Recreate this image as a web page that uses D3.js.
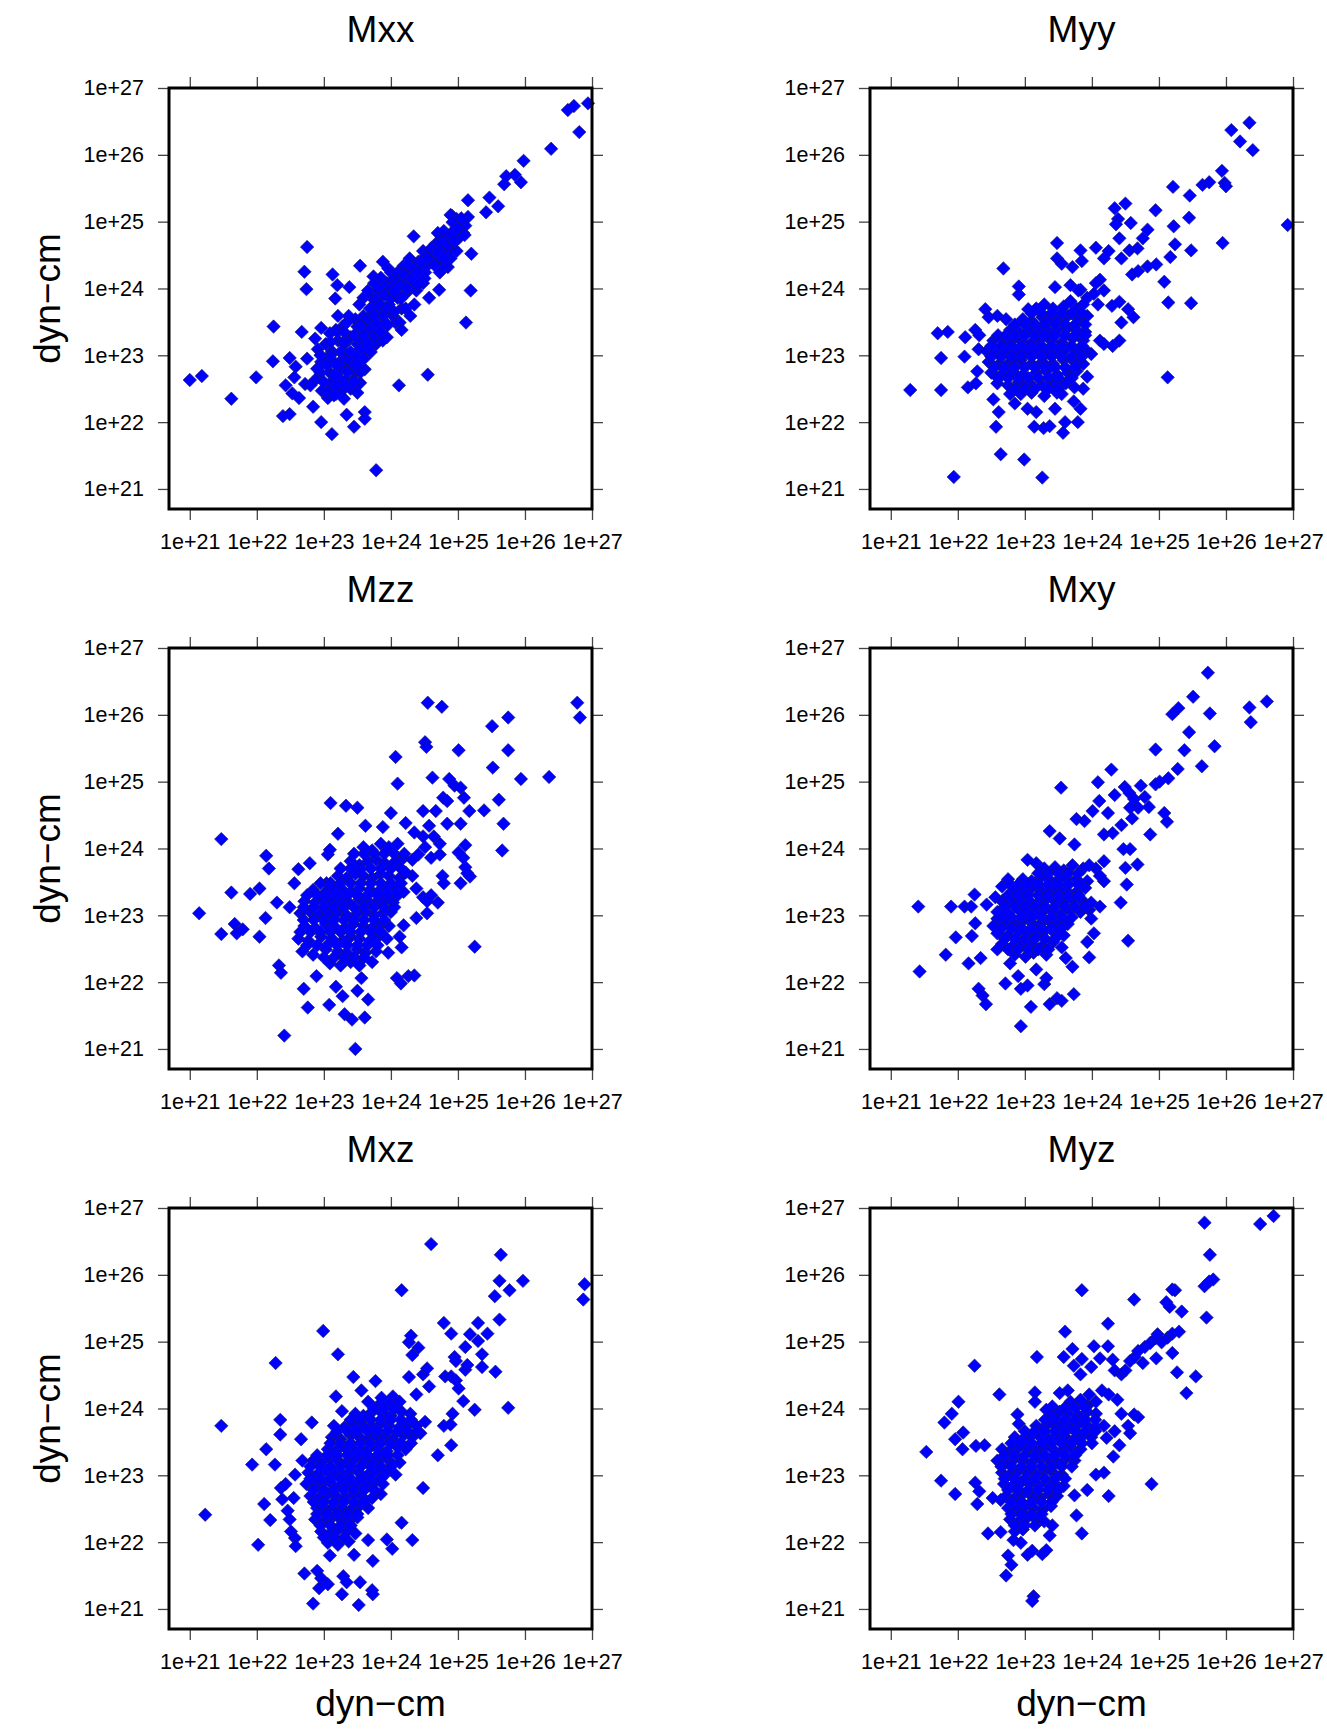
<!DOCTYPE html>
<html><head><meta charset="utf-8">
<script src="https://cdn.jsdelivr.net/npm/d3@7"></script>
<style>body{margin:0;background:#fff}svg{display:block}</style>
</head><body>
<script>
// Values are log10 of moment in dyn-cm: [x, y]
const titles = ["Mxx","Myy","Mzz","Mxy","Mxz","Myz"];
const tickValues = [1e21,1e22,1e23,1e24,1e25,1e26,1e27];
const tickLabels = ["1e+21","1e+22","1e+23","1e+24","1e+25","1e+26","1e+27"];
const axisLabel = "dyn\u2212cm";

const mxx = [[21.00,22.63],[21.18,22.69],[21.62,22.35],[21.99,22.67],[22.25,23.43],[22.24,22.91],[22.49,22.96],[22.43,22.55],[22.39,22.09],[22.49,22.12],[22.58,22.83],[22.56,22.67],[22.53,22.43],[22.63,22.36],[22.67,23.35],[22.75,24.62],[22.71,24.25],[22.74,23.99],[22.75,22.95],[22.72,22.57],[22.84,22.23],[22.96,22.00],[23.12,21.82],[23.13,24.21],[23.20,24.05],[23.17,23.85],[23.38,24.02],[23.54,24.34],[23.34,22.11],[23.45,21.93],[23.61,22.15],[23.61,22.05],[23.78,21.28],[23.54,22.59],[24.12,22.55],[24.55,22.71],[24.34,24.78],[24.72,23.98],[24.57,23.86],[25.12,23.49],[25.20,24.52],[25.19,23.97],[25.15,25.32],[25.15,25.07],[25.42,25.14],[25.47,25.36],[25.60,25.23],[25.69,25.56],[25.72,25.68],[25.85,25.70],[25.94,25.59],[25.98,25.91],[26.39,26.09],[26.64,26.67],[26.73,26.73],[26.81,26.34],[26.94,26.77],[24.91,25.09],[23.88,24.40],[23.96,24.30],[23.74,24.18],[24.28,24.45],[24.48,24.56],[24.85,24.32],
[22.87,23.25],[22.96,23.41],[22.91,23.09],[23.03,23.17],[22.95,22.74],[22.87,22.63],[22.80,22.55],[22.97,22.47],[23.06,22.36],[23.15,22.52],[23.09,22.74],[23.21,22.68],[23.15,22.90],[23.03,22.95],[23.12,23.06],[23.21,23.22],[23.18,23.38],[23.28,23.43],[23.29,22.95],[23.37,22.84],[23.47,22.74],[23.34,22.63],[23.27,22.47],[23.40,22.50],[23.50,22.44],[23.31,23.17],[23.40,23.27],[23.50,23.17],[23.59,23.06],[23.53,22.90],[23.61,22.79],[23.44,23.01],[23.56,23.38],[23.66,23.49],[23.59,23.59],[23.69,23.70],[23.47,23.54],[23.37,23.59],[23.21,23.59],[23.72,23.86],[23.81,23.97],[23.88,24.02],[23.94,24.08],[24.03,24.13],[23.78,23.76],[23.85,23.65],[23.97,23.76],[24.10,23.86],[23.91,23.49],[24.03,23.59],[24.16,23.70],[23.72,23.49],[23.81,23.33],[23.94,23.27],[24.07,23.49],[23.66,23.27],[23.78,23.17],[23.88,23.22],[24.19,24.13],[24.26,24.24],[24.32,24.34],[24.41,24.40],[24.48,24.45],[24.22,23.92],[24.32,24.02],[24.41,24.13],[24.51,24.24],[24.22,23.70],[24.35,23.76],[24.13,23.49],[24.16,23.38],[24.57,24.56],[24.67,24.67],[24.76,24.72],[24.86,24.78],[24.95,24.88],[25.04,24.99],[25.11,24.94],[24.60,24.40],[24.73,24.45],[24.82,24.56],[24.92,24.61],[25.01,24.75],[25.08,24.83],[24.73,24.24],[24.79,24.34],[24.89,24.45],[24.98,24.56],[24.70,24.83],[24.79,24.86],[24.89,25.10],
[23.59,23.86],[23.66,23.97],[23.75,24.08],[23.85,24.16],[24.00,24.24],[24.10,24.02],[24.19,24.34],[24.10,24.24],[23.53,23.76],[23.62,23.38],[23.72,23.17],[23.56,23.22],[23.34,23.01],[23.25,22.79],[23.44,22.63],[23.53,22.58],[23.18,22.42],[23.09,22.58],[23.34,23.49],[23.50,23.43],[23.09,23.33],[22.96,22.90],[23.81,23.59],[23.97,23.92],[24.38,23.97],[24.48,24.08],[24.54,24.34],[24.64,24.50],[24.45,24.24],[24.29,23.59],[24.92,24.99],[24.98,25.04],
[23.05,22.85],[23.10,23.00],[23.15,22.70],[23.20,22.85],[23.25,23.05],[23.25,22.60],[23.30,23.20],[23.35,22.75],[23.40,23.05],[23.40,22.90],[23.45,23.30],[23.45,22.85],[23.50,23.00],[23.55,23.45],[23.55,23.10],[23.60,22.95],[23.60,23.30],[23.65,23.55],[23.65,23.15],[23.70,23.40],[23.70,23.05],[23.75,23.60],[23.75,23.30],[23.80,23.85],[23.80,23.45],[23.85,23.75],[23.85,23.35],[23.90,23.60],[23.90,23.90],[23.95,23.70],[23.95,23.45],[24.00,23.85],[24.00,24.00],[24.05,23.65],[24.05,23.95],[24.10,24.10],[24.15,23.85],[24.15,24.05],[24.20,24.20],[24.25,24.00],[24.25,24.35],[24.30,24.15],[24.35,24.30],[24.40,24.05],[24.40,24.25],[24.45,24.40],[24.50,24.15],[24.55,24.45],[24.60,24.60],[24.65,24.35],[24.70,24.55],[24.75,24.65],[24.80,24.45],[24.85,24.65],[24.90,24.80],[24.95,24.70],[25.00,24.90],[25.05,25.05],[25.10,24.80],
[22.90,22.80],[23.00,22.60],[23.05,22.45],[23.15,22.40],[23.30,22.35],[23.20,22.55],[23.35,22.55],[23.45,22.60],[23.10,23.20],[23.20,23.35],[23.30,23.35],[22.95,23.00],[23.55,22.75],[23.50,22.85]];

const myy = [[21.29,22.48],[21.75,22.48],[21.75,22.96],[21.70,23.33],[21.85,23.35],[21.94,21.18],[22.10,22.98],[22.11,23.27],[22.15,22.52],[22.27,22.58],[22.29,22.76],[22.26,23.38],[22.32,23.30],[22.31,23.09],[22.41,23.69],[22.46,23.57],[22.57,21.93],[22.61,22.15],[22.53,22.34],[22.64,21.52],[22.68,24.30],[22.59,23.59],[22.72,23.54],[22.91,24.03],[22.91,23.91],[22.99,21.44],[23.05,23.69],[23.14,21.93],[23.26,21.17],[23.28,21.91],[23.37,21.94],[23.57,21.84],[23.60,22.00],[23.79,22.00],[23.48,24.68],[23.48,24.45],[23.55,24.37],[23.71,24.32],[23.83,24.57],[23.85,24.41],[23.45,24.02],[23.68,24.05],[23.83,23.98],[24.06,24.61],[24.18,24.45],[24.25,24.56],[24.34,25.20],[24.39,25.04],[24.36,24.96],[24.50,25.27],[24.58,24.98],[24.41,24.75],[24.44,24.45],[24.56,24.57],[24.68,24.60],[24.76,24.75],[24.83,24.88],[24.60,24.21],[24.69,24.26],[24.83,24.33],[24.96,24.36],[24.95,25.17],[25.08,24.10],[25.14,23.79],[25.17,24.47],[25.22,24.93],[25.24,24.66],[25.21,25.52],[25.46,25.39],[25.45,25.06],[25.48,24.57],[25.48,23.78],[25.13,22.67],[25.65,25.55],[25.75,25.59],[25.94,25.76],[25.98,25.58],[26.00,25.53],[25.95,24.68],[26.08,26.37],[26.21,26.20],[26.35,26.48],[26.40,26.07],[26.92,24.95],[24.12,24.13],[24.30,23.74],[24.41,23.80],[24.54,23.69],[24.44,23.49],[24.62,23.57],[24.41,23.22],[24.12,23.22],[24.18,23.17],[24.31,23.14],[23.99,23.02],[24.09,23.76],[24.06,24.08],[24.18,23.97],[23.93,22.68],[23.87,22.50],[23.83,22.20],[23.73,22.31],[23.45,22.20],[23.48,22.44],[23.17,22.15],[23.04,22.20],[22.85,22.28],[22.78,22.42],
[23.17,23.70],[23.29,23.76],[23.42,23.70],[23.58,23.73],[23.68,23.81],[23.77,23.70],[22.97,23.54],[23.10,23.51],[23.26,23.57],[23.39,23.54],[23.52,23.57],[23.64,23.59],[23.80,23.54],[23.93,23.59],[22.78,23.38],[22.91,23.35],[23.07,23.38],[23.23,23.41],[23.36,23.35],[23.48,23.38],[23.64,23.41],[23.77,23.38],[23.90,23.35],[22.53,23.22],[22.66,23.25],[22.78,23.19],[22.94,23.22],[23.10,23.19],[23.23,23.25],[23.39,23.22],[23.55,23.19],[23.71,23.25],[23.87,23.22],[22.43,23.06],[22.59,23.03],[22.72,23.09],[22.88,23.03],[23.04,23.06],[23.17,23.09],[23.32,23.03],[23.45,23.06],[23.61,23.09],[23.77,23.03],[23.90,23.09],[22.46,22.90],[22.62,22.87],[22.78,22.90],[22.94,22.93],[23.10,22.87],[23.26,22.90],[23.42,22.87],[23.58,22.93],[23.74,22.90],[23.87,22.87],[22.50,22.74],[22.66,22.71],[22.82,22.76],[22.97,22.71],[23.17,22.74],[23.32,22.76],[23.48,22.71],[23.64,22.74],[23.77,22.76],[22.59,22.58],[22.75,22.55],[22.91,22.60],[23.07,22.58],[23.26,22.55],[23.42,22.60],[23.61,22.58],[23.74,22.52],[22.94,22.42],[23.10,22.44],[23.29,22.39],[23.55,22.42],[23.93,23.86],[24.03,23.92],[23.87,23.76],[23.80,23.97],
[23.10,23.63],[23.25,23.63],[23.40,23.63],[23.55,23.63],[23.70,23.63],[23.85,23.63],[22.85,23.46],[23.00,23.46],[23.15,23.46],[23.30,23.46],[23.45,23.46],[23.60,23.46],[23.75,23.46],[23.90,23.46],[22.60,23.30],[22.72,23.30],[22.85,23.30],[23.00,23.30],[23.15,23.30],[23.30,23.30],[23.45,23.30],[23.60,23.30],[23.75,23.30],[23.90,23.30],[22.50,23.14],[22.65,23.14],[22.80,23.14],[22.95,23.14],[23.10,23.14],[23.25,23.14],[23.40,23.14],[23.55,23.14],[23.70,23.14],[23.85,23.14],[22.50,22.98],[22.65,22.98],[22.80,22.98],[22.95,22.98],[23.10,22.98],[23.25,22.98],[23.40,22.98],[23.55,22.98],[23.70,22.98],[23.85,22.98],[22.55,22.82],[22.70,22.82],[22.85,22.82],[23.00,22.82],[23.15,22.82],[23.30,22.82],[23.45,22.82],[23.60,22.82],[23.75,22.82],[22.60,22.66],[22.75,22.66],[22.90,22.66],[23.05,22.66],[23.20,22.66],[23.35,22.66],[23.50,22.66],[23.70,22.66],[22.85,22.50],[23.00,22.50],[23.15,22.50],[23.35,22.50],[23.50,22.50]];

const mzz = [[21.14,23.03],[21.47,24.14],[21.47,22.72],[21.62,23.34],[21.67,22.87],[21.70,22.73],[21.79,22.79],[21.90,23.32],[22.04,23.40],[22.04,22.68],[22.13,22.96],[22.14,23.89],[22.18,23.70],[22.30,23.19],[22.33,22.25],[22.36,22.14],[22.41,21.20],[22.49,23.12],[22.56,23.48],[22.62,23.69],[22.79,23.78],[22.70,21.90],[22.76,21.62],[22.89,22.09],[23.08,21.66],[23.04,23.48],[23.10,24.68],[23.21,24.22],[23.06,23.91],[23.09,23.98],[23.33,24.64],[23.50,24.61],[23.18,21.93],[23.28,21.79],[23.31,21.52],[23.42,21.44],[23.61,21.47],[23.47,21.00],[23.50,21.87],[23.66,21.74],[23.56,22.06],[23.62,24.34],[23.88,24.32],[24.00,24.53],[24.07,25.37],[24.10,24.97],[24.22,24.38],[24.09,22.06],[24.15,21.98],[24.26,22.09],[24.35,22.10],[24.48,24.56],[24.51,25.59],[24.53,25.52],[24.55,26.18],[24.76,26.12],[24.62,25.06],[24.67,24.56],[24.78,24.76],[24.84,24.71],[24.84,24.37],[24.87,25.04],[24.95,24.94],[25.01,25.47],[25.04,24.91],[25.09,24.76],[25.17,24.56],[25.04,24.37],[25.11,24.05],[25.01,23.94],[25.08,23.86],[25.11,23.72],[25.14,23.63],[25.18,23.58],[25.04,23.48],[24.77,23.59],[24.79,23.48],[24.70,23.19],[24.54,23.03],[24.38,22.96],[25.25,22.53],[25.39,24.57],[25.51,25.83],[25.52,25.21],[25.61,24.73],[25.68,24.37],[25.66,23.97],[25.75,25.96],[25.75,25.47],[25.94,25.04],[26.36,25.07],[26.78,26.18],[26.82,25.96],[24.19,22.85],[24.16,22.52],[23.96,22.44],[24.13,22.68],[24.38,23.40],[24.48,23.27],[24.32,23.59],[24.41,23.91],[24.51,24.02],[24.60,23.86],[24.73,23.91],[24.73,24.07],[24.64,24.18],[24.48,24.18],[24.35,24.24],[24.57,24.34],[24.60,23.30],[24.54,23.21],
[23.59,24.02],[23.72,23.97],[23.85,24.07],[23.97,24.02],[24.10,24.07],[23.40,23.81],[23.53,23.75],[23.66,23.81],[23.78,23.83],[23.91,23.78],[24.07,23.81],[24.19,23.86],[24.32,23.83],[23.21,23.59],[23.34,23.56],[23.47,23.62],[23.59,23.59],[23.72,23.56],[23.85,23.62],[23.97,23.59],[24.13,23.56],[24.22,23.64],[22.84,23.38],[23.03,23.35],[23.15,23.40],[23.28,23.38],[23.40,23.35],[23.53,23.40],[23.69,23.38],[23.81,23.35],[23.94,23.40],[24.07,23.38],[24.19,23.35],[22.71,23.21],[22.87,23.19],[22.99,23.24],[23.12,23.19],[23.25,23.21],[23.37,23.19],[23.53,23.24],[23.66,23.21],[23.78,23.19],[23.91,23.24],[24.03,23.19],[22.65,23.03],[22.80,23.05],[22.93,23.00],[23.09,23.03],[23.21,23.05],[23.34,23.00],[23.50,23.03],[23.62,23.05],[23.75,23.00],[23.88,23.03],[24.00,23.05],[22.71,22.84],[22.87,22.81],[23.03,22.87],[23.15,22.84],[23.31,22.81],[23.44,22.87],[23.59,22.84],[23.72,22.81],[23.85,22.87],[23.97,22.84],[22.62,22.65],[22.77,22.62],[22.96,22.68],[23.12,22.65],[23.28,22.62],[23.40,22.68],[23.53,22.65],[23.69,22.62],[23.81,22.68],[23.94,22.65],[22.68,22.46],[22.84,22.41],[23.03,22.49],[23.21,22.46],[23.34,22.44],[23.50,22.49],[23.62,22.44],[23.78,22.46],[23.09,22.28],[23.25,22.25],[23.40,22.30],[23.53,22.25],[23.72,22.30],
[23.45,23.92],[23.60,23.92],[23.75,23.92],[23.90,23.92],[24.05,23.92],[24.20,23.92],[23.25,23.70],[23.40,23.70],[23.55,23.70],[23.70,23.70],[23.85,23.70],[24.00,23.70],[24.15,23.70],[22.95,23.48],[23.10,23.48],[23.25,23.48],[23.40,23.48],[23.55,23.48],[23.70,23.48],[23.85,23.48],[24.00,23.48],[24.15,23.48],[22.75,23.30],[22.90,23.30],[23.05,23.30],[23.20,23.30],[23.35,23.30],[23.50,23.30],[23.65,23.30],[23.80,23.30],[23.95,23.30],[24.10,23.30],[22.70,23.12],[22.85,23.12],[23.00,23.12],[23.15,23.12],[23.30,23.12],[23.45,23.12],[23.60,23.12],[23.75,23.12],[23.90,23.12],[24.05,23.12],[22.70,22.93],[22.85,22.93],[23.00,22.93],[23.15,22.93],[23.30,22.93],[23.45,22.93],[23.60,22.93],[23.75,22.93],[23.90,22.93],[22.65,22.75],[22.80,22.75],[22.95,22.75],[23.10,22.75],[23.25,22.75],[23.40,22.75],[23.55,22.75],[23.70,22.75],[23.85,22.75],[22.75,22.55],[22.90,22.55],[23.05,22.55],[23.20,22.55],[23.35,22.55],[23.50,22.55],[23.65,22.55],[23.80,22.55],[23.00,22.37],[23.15,22.37],[23.30,22.37],[23.45,22.37],[23.60,22.37]];

const mxy = [[21.41,23.13],[21.43,22.16],[21.82,22.41],[21.90,23.13],[21.97,22.67],[22.10,23.13],[22.20,23.13],[22.25,23.31],[22.21,22.69],[22.26,22.88],[22.16,22.28],[22.34,22.36],[22.31,21.90],[22.37,21.80],[22.42,21.67],[22.71,21.98],[22.94,21.34],[23.09,21.63],[22.94,21.90],[23.04,21.95],[23.37,21.67],[23.48,21.76],[23.55,21.72],[23.73,21.82],[23.71,22.23],[23.96,22.37],[23.93,22.60],[24.03,22.73],[24.54,22.62],[24.43,23.19],[24.52,23.46],[24.18,23.51],[24.50,23.71],[24.68,23.76],[24.57,23.99],[24.47,23.99],[24.87,24.21],[25.08,24.53],[25.12,24.40],[23.54,24.91],[23.37,24.26],[23.52,24.15],[23.74,24.06],[24.09,24.99],[24.11,24.71],[24.29,25.18],[24.24,24.53],[24.01,24.56],[23.77,24.44],[23.89,24.41],[24.34,24.80],[24.49,24.92],[24.56,24.83],[24.63,24.74],[24.73,24.94],[24.79,24.77],[24.85,24.62],[24.69,24.61],[24.57,24.61],[24.60,24.45],[24.44,24.35],[24.95,24.96],[25.01,25.00],[25.14,25.05],[24.95,25.48],[25.28,25.19],[25.38,25.47],[25.45,25.74],[25.20,26.01],[25.29,26.10],[25.51,26.27],[25.64,25.23],[25.73,26.63],[25.76,26.02],[25.83,25.53],[26.35,26.11],[26.37,25.89],[26.61,26.20],[24.18,24.21],[24.31,24.23],[24.18,23.81],[24.06,23.70],[24.12,23.59],[23.96,23.08],[24.12,23.13],[23.99,22.95],[23.61,22.36],[23.55,22.52],[23.29,21.97],[23.32,22.06],[23.17,22.19],[22.90,22.09],[22.78,22.28],[22.59,22.49],[22.59,22.95],[22.53,22.84],[22.43,23.16],[22.56,23.27],[22.66,23.43],[22.75,23.54],[23.04,23.83],[23.17,23.78],[22.78,23.46],
[23.29,23.70],[23.45,23.72],[23.58,23.67],[23.71,23.75],[23.87,23.70],[23.96,23.75],[22.97,23.54],[23.10,23.51],[23.23,23.56],[23.36,23.54],[23.48,23.51],[23.61,23.56],[23.77,23.54],[23.93,23.51],[22.85,23.38],[22.97,23.35],[23.10,23.41],[23.23,23.38],[23.36,23.35],[23.48,23.41],[23.61,23.38],[23.77,23.35],[23.90,23.41],[22.66,23.21],[22.82,23.19],[22.94,23.24],[23.07,23.21],[23.20,23.19],[23.32,23.24],[23.45,23.21],[23.58,23.19],[23.71,23.24],[23.87,23.21],[23.99,23.19],[22.59,23.05],[22.75,23.03],[22.91,23.08],[23.04,23.05],[23.17,23.03],[23.29,23.08],[23.42,23.05],[23.55,23.03],[23.68,23.08],[23.83,23.05],[22.69,22.89],[22.85,22.87],[22.97,22.92],[23.10,22.89],[23.23,22.87],[23.36,22.92],[23.48,22.89],[23.64,22.87],[22.59,22.73],[22.75,22.70],[22.91,22.76],[23.04,22.73],[23.17,22.70],[23.29,22.76],[23.45,22.73],[23.58,22.70],[22.66,22.57],[22.82,22.54],[22.97,22.60],[23.10,22.57],[23.26,22.54],[23.42,22.60],[22.85,22.41],[23.01,22.38],[23.13,22.44],[23.32,22.41],
[23.20,23.63],[23.35,23.63],[23.50,23.63],[23.65,23.63],[23.80,23.63],[22.90,23.46],[23.05,23.46],[23.20,23.46],[23.35,23.46],[23.50,23.46],[23.65,23.46],[23.80,23.46],[22.75,23.30],[22.90,23.30],[23.05,23.30],[23.20,23.30],[23.35,23.30],[23.50,23.30],[23.65,23.30],[23.80,23.30],[22.70,23.13],[22.85,23.13],[23.00,23.13],[23.15,23.13],[23.30,23.13],[23.45,23.13],[23.60,23.13],[23.75,23.13],[23.90,23.13],[22.65,22.97],[22.80,22.97],[22.95,22.97],[23.10,22.97],[23.25,22.97],[23.40,22.97],[23.55,22.97],[23.70,22.97],[22.65,22.81],[22.80,22.81],[22.95,22.81],[23.10,22.81],[23.25,22.81],[23.40,22.81],[23.55,22.81],[22.70,22.65],[22.85,22.65],[23.00,22.65],[23.15,22.65],[23.30,22.65],[23.45,22.65],[22.75,22.49],[22.90,22.49],[23.05,22.49],[23.20,22.49],[23.35,22.49]];

const mxz = [[21.23,22.41],[21.47,23.74],[21.93,23.16],[22.02,21.96],[22.11,22.57],[22.14,23.39],[22.20,22.33],[22.28,24.68],[22.27,23.16],[22.35,23.83],[22.35,23.61],[22.36,22.81],[22.43,22.87],[22.38,22.64],[22.46,22.47],[22.49,22.34],[22.51,22.16],[22.55,22.66],[22.57,22.06],[22.58,21.94],[22.57,23.01],[22.66,23.54],[22.68,23.22],[22.82,23.79],[22.71,21.53],[22.84,21.08],[22.90,21.57],[22.93,21.31],[22.96,21.46],[23.06,21.37],[23.09,21.80],[22.99,25.16],[23.21,24.81],[23.27,21.22],[23.29,21.49],[23.34,21.40],[23.45,21.81],[23.52,21.06],[23.54,21.40],[23.72,21.28],[23.73,21.22],[23.73,21.72],[23.66,22.03],[23.94,22.04],[24.02,21.90],[24.16,22.29],[24.32,22.03],[23.18,24.18],[23.27,23.96],[23.44,24.47],[23.56,24.27],[23.77,24.41],[23.86,24.16],[24.03,24.18],[24.16,25.77],[24.27,24.99],[24.30,25.09],[24.41,24.91],[24.27,24.47],[24.60,26.46],[24.48,22.81],[24.70,23.30],[24.90,23.45],[24.79,25.28],[24.90,25.12],[24.95,24.77],[24.97,24.71],[24.79,23.74],[24.89,23.76],[24.92,23.92],[24.81,24.48],[24.90,24.48],[24.97,24.42],[25.01,24.30],[25.08,24.11],[25.25,23.98],[25.11,24.58],[25.14,24.65],[25.11,24.92],[25.18,25.11],[25.30,25.01],[25.30,25.28],[25.36,24.81],[25.36,24.62],[25.44,25.12],[25.56,24.55],[25.62,25.33],[25.55,25.68],[25.62,25.91],[25.64,26.30],[25.77,25.77],[25.75,24.01],[25.97,25.91],[26.87,25.63],[26.89,25.86],[24.38,24.21],[24.48,24.51],[24.54,24.60],[24.57,24.33],[24.32,24.80],
[23.66,24.10],[23.81,24.04],[23.97,24.07],[24.13,24.10],[23.47,23.92],[23.59,23.89],[23.72,23.95],[23.88,23.92],[24.00,23.89],[24.16,23.95],[24.29,23.92],[23.15,23.74],[23.31,23.72],[23.44,23.77],[23.59,23.74],[23.72,23.72],[23.85,23.77],[23.97,23.74],[24.13,23.72],[24.26,23.77],[24.38,23.74],[24.51,23.80],[23.12,23.57],[23.25,23.54],[23.40,23.60],[23.53,23.57],[23.66,23.54],[23.78,23.60],[23.91,23.57],[24.03,23.54],[24.19,23.60],[24.32,23.57],[24.44,23.63],[23.06,23.39],[23.18,23.36],[23.31,23.42],[23.44,23.39],[23.56,23.36],[23.69,23.42],[23.81,23.39],[23.94,23.36],[24.10,23.42],[24.22,23.39],[22.84,23.22],[22.96,23.19],[23.09,23.25],[23.21,23.22],[23.34,23.19],[23.47,23.25],[23.59,23.22],[23.72,23.19],[23.85,23.25],[23.97,23.22],[24.13,23.19],[22.77,23.04],[22.90,23.01],[23.03,23.07],[23.15,23.04],[23.28,23.01],[23.40,23.07],[23.53,23.04],[23.66,23.01],[23.78,23.07],[23.94,23.04],[24.07,23.01],[22.74,22.87],[22.87,22.84],[22.99,22.89],[23.12,22.87],[23.25,22.84],[23.37,22.89],[23.50,22.87],[23.62,22.84],[23.75,22.89],[23.88,22.87],[22.80,22.69],[22.93,22.66],[23.06,22.72],[23.18,22.69],[23.31,22.66],[23.44,22.72],[23.56,22.69],[23.72,22.66],[23.85,22.72],[22.90,22.51],[23.03,22.48],[23.15,22.54],[23.28,22.51],[23.40,22.48],[23.53,22.54],[23.66,22.51],[22.87,22.34],[22.99,22.31],[23.12,22.37],[23.25,22.34],[23.37,22.31],[23.50,22.37],[22.96,22.16],[23.09,22.13],[23.21,22.19],[23.34,22.16],[23.47,22.13],[23.06,21.99],[23.21,21.96],[23.37,22.01],
[23.75,24.00],[23.90,24.00],[24.05,24.00],[23.40,23.83],[23.55,23.83],[23.70,23.83],[23.85,23.83],[24.00,23.83],[24.15,23.83],[24.30,23.83],[23.20,23.66],[23.35,23.66],[23.50,23.66],[23.65,23.66],[23.80,23.66],[23.95,23.66],[24.10,23.66],[24.25,23.66],[24.40,23.66],[23.10,23.48],[23.25,23.48],[23.40,23.48],[23.55,23.48],[23.70,23.48],[23.85,23.48],[24.00,23.48],[24.15,23.48],[24.30,23.48],[22.90,23.30],[23.05,23.30],[23.20,23.30],[23.35,23.30],[23.50,23.30],[23.65,23.30],[23.80,23.30],[23.95,23.30],[24.10,23.30],[22.80,23.13],[22.95,23.13],[23.10,23.13],[23.25,23.13],[23.40,23.13],[23.55,23.13],[23.70,23.13],[23.85,23.13],[24.00,23.13],[22.80,22.95],[22.95,22.95],[23.10,22.95],[23.25,22.95],[23.40,22.95],[23.55,22.95],[23.70,22.95],[23.85,22.95],[22.85,22.78],[23.00,22.78],[23.15,22.78],[23.30,22.78],[23.45,22.78],[23.60,22.78],[23.75,22.78],[22.85,22.60],[23.00,22.60],[23.15,22.60],[23.30,22.60],[23.45,22.60],[23.60,22.60],[22.90,22.42],[23.05,22.42],[23.20,22.42],[23.35,22.42],[23.50,22.42],[22.95,22.25],[23.10,22.25],[23.25,22.25],[23.40,22.25],[23.00,22.07],[23.15,22.07],[23.30,22.07]];

const myz = [[21.53,23.35],[21.75,22.92],[21.80,23.79],[21.91,23.92],[21.96,22.72],[21.96,23.54],[22.01,24.10],[22.08,23.64],[22.07,23.39],[22.25,24.64],[22.26,22.89],[22.27,23.44],[22.32,22.76],[22.40,23.45],[22.29,22.57],[22.52,22.66],[22.64,22.63],[22.45,22.13],[22.64,22.15],[22.62,24.21],[22.72,21.50],[22.75,21.80],[22.80,21.66],[22.83,22.03],[22.94,21.99],[23.04,21.81],[23.11,21.87],[23.13,21.19],[23.11,21.12],[23.26,21.82],[23.32,21.88],[23.37,22.10],[23.41,22.25],[23.77,22.40],[23.85,22.13],[23.93,22.78],[23.74,22.70],[24.25,22.69],[24.06,23.01],[24.18,23.04],[24.32,23.28],[24.89,22.87],[23.18,24.77],[23.15,24.24],[23.15,24.10],[22.89,23.91],[22.91,23.77],[23.32,23.98],[23.41,24.03],[23.52,24.23],[23.60,25.15],[23.58,24.77],[23.64,24.27],[23.71,24.89],[23.73,24.64],[23.83,24.51],[23.85,25.77],[23.85,24.74],[23.99,24.62],[24.03,24.93],[24.12,24.75],[24.24,25.27],[24.24,24.93],[24.31,24.73],[24.34,24.57],[24.63,25.63],[24.44,24.51],[24.50,24.57],[24.57,24.71],[24.64,24.77],[24.69,24.86],[24.79,24.92],[24.87,24.98],[24.95,25.05],[24.98,25.11],[24.76,24.68],[24.96,24.75],[25.04,24.99],[25.13,25.06],[25.20,25.12],[25.30,25.15],[25.20,24.83],[25.27,24.54],[25.41,24.23],[25.55,24.48],[25.11,25.59],[25.16,25.52],[25.24,25.77],[25.20,25.78],[25.34,25.45],[24.54,23.74],[24.57,23.63],[24.44,23.92],[24.63,23.91],[24.69,23.87],[24.41,23.45],[24.34,23.66],[24.22,23.56],[24.18,23.74],[25.68,26.78],[26.51,26.76],[26.71,26.88],[25.76,26.30],[25.68,25.83],[25.75,25.90],[25.81,25.93],[25.71,25.36],[24.15,24.27],[24.25,24.21],[24.38,24.13],[24.06,24.10],[23.96,24.21],
[23.68,24.10],[23.83,24.13],[23.93,24.04],[23.39,23.89],[23.52,23.95],[23.64,23.92],[23.80,23.89],[23.93,23.95],[24.06,23.92],[23.17,23.74],[23.29,23.72],[23.42,23.77],[23.55,23.74],[23.68,23.72],[23.80,23.77],[23.93,23.74],[24.06,23.72],[22.85,23.57],[22.97,23.54],[23.10,23.60],[23.23,23.57],[23.36,23.54],[23.48,23.60],[23.61,23.57],[23.74,23.54],[23.87,23.60],[23.99,23.57],[22.66,23.39],[22.78,23.36],[22.91,23.42],[23.04,23.39],[23.17,23.36],[23.29,23.42],[23.42,23.39],[23.55,23.36],[23.68,23.42],[23.83,23.39],[22.59,23.22],[22.72,23.19],[22.85,23.25],[22.97,23.22],[23.10,23.19],[23.23,23.25],[23.36,23.22],[23.48,23.19],[23.61,23.25],[23.74,23.22],[22.66,23.04],[22.78,23.01],[22.91,23.07],[23.04,23.04],[23.17,23.01],[23.29,23.07],[23.42,23.04],[23.55,23.01],[22.69,22.87],[22.82,22.84],[22.94,22.89],[23.07,22.87],[23.20,22.84],[23.32,22.89],[23.45,22.87],[23.58,22.84],[22.72,22.69],[22.85,22.66],[22.97,22.72],[23.10,22.69],[23.23,22.66],[23.36,22.72],[23.48,22.69],[22.75,22.51],[22.88,22.48],[23.01,22.54],[23.13,22.51],[23.26,22.48],[23.39,22.54],[22.78,22.34],[22.91,22.31],[23.04,22.37],[23.17,22.34],[23.29,22.31],[22.85,22.16],[22.97,22.19],
[23.60,24.01],[23.75,24.01],[23.90,24.01],[23.30,23.83],[23.45,23.83],[23.60,23.83],[23.75,23.83],[23.90,23.83],[24.05,23.83],[23.00,23.66],[23.15,23.66],[23.30,23.66],[23.45,23.66],[23.60,23.66],[23.75,23.66],[23.90,23.66],[24.05,23.66],[22.80,23.48],[22.95,23.48],[23.10,23.48],[23.25,23.48],[23.40,23.48],[23.55,23.48],[23.70,23.48],[23.85,23.48],[24.00,23.48],[22.70,23.30],[22.85,23.30],[23.00,23.30],[23.15,23.30],[23.30,23.30],[23.45,23.30],[23.60,23.30],[23.75,23.30],[22.65,23.13],[22.80,23.13],[22.95,23.13],[23.10,23.13],[23.25,23.13],[23.40,23.13],[23.55,23.13],[23.70,23.13],[22.70,22.95],[22.85,22.95],[23.00,22.95],[23.15,22.95],[23.30,22.95],[23.45,22.95],[23.60,22.95],[22.75,22.78],[22.90,22.78],[23.05,22.78],[23.20,22.78],[23.35,22.78],[23.50,22.78],[22.80,22.60],[22.95,22.60],[23.10,22.60],[23.25,22.60],[23.40,22.60],[22.80,22.42],[22.95,22.42],[23.10,22.42],[23.25,22.42],[22.85,22.25],[23.00,22.25],[23.15,22.25]];

const series = [mxx, myy, mzz, mxy, mxz, myz];

// ---- layout ----
const W = 1327, H = 1731;
const colLeft = [169, 870], rowTop = [88, 648, 1208];
const boxW = 423, boxH = 421;
const FONT = "'Liberation Sans', Arial, Helvetica, sans-serif";

const svg = d3.select("body").append("svg").attr("width", W).attr("height", H)
  .style("font-family", FONT);
svg.append("rect").attr("width", W).attr("height", H).attr("fill", "#fff");

const diamond = d3.symbol().type(d3.symbolSquare).size(90);

series.forEach((data, i) => {
  const col = i % 2, row = Math.floor(i / 2);
  const L = colLeft[col], T = rowTop[row];
  const x = d3.scaleLog().domain([Math.pow(10, 20.69), 1e27]).range([L, L + boxW]);
  const y = d3.scaleLog().domain([Math.pow(10, 20.70), 1e27]).range([T + boxH, T]);
  const g = svg.append("g");

  g.append("text").attr("x", L + boxW / 2).attr("y", T - 46)
    .attr("text-anchor", "middle").attr("font-size", 37).attr("fill", "#000")
    .text(titles[i]);

  g.append("g").selectAll("path").data(data).join("path")
    .attr("d", diamond)
    .attr("transform", d => `translate(${x(Math.pow(10, d[0]))},${y(Math.pow(10, d[1]))}) rotate(45)`)
    .attr("fill", "#0000ff").attr("stroke", "#1a1a70").attr("stroke-width", 0.6);

  const style = sel => {
    sel.select(".domain").remove();
    sel.selectAll(".tick line").attr("stroke", "#444").attr("stroke-width", 1.3);
    sel.selectAll(".tick text").attr("fill", "#000").attr("font-size", 21.5).attr("font-family", FONT);
  };
  g.append("g").attr("transform", `translate(0,${T + boxH})`)
    .call(d3.axisBottom(x).tickValues(tickValues).tickSize(11).tickPadding(14)
      .tickFormat((d, k) => tickLabels[k])).call(style);
  g.append("g").attr("transform", `translate(0,${T})`)
    .call(d3.axisTop(x).tickValues(tickValues).tickSize(11).tickFormat(() => "")).call(style);
  g.append("g").attr("transform", `translate(${L},0)`)
    .call(d3.axisLeft(y).tickValues(tickValues).tickSize(11).tickPadding(14)
      .tickFormat((d, k) => tickLabels[k])).call(style);
  g.append("g").attr("transform", `translate(${L + boxW},0)`)
    .call(d3.axisRight(y).tickValues(tickValues).tickSize(11).tickFormat(() => "")).call(style);

  g.append("rect").attr("x", L).attr("y", T).attr("width", boxW).attr("height", boxH)
    .attr("fill", "none").attr("stroke", "#000").attr("stroke-width", 3);

  if (col === 0) {
    g.append("text").attr("transform", `translate(60,${T + boxH / 2}) rotate(-90)`)
      .attr("text-anchor", "middle").attr("font-size", 37).attr("fill", "#000").text(axisLabel);
  }
  if (row === 2) {
    g.append("text").attr("x", L + boxW / 2).attr("y", 1716)
      .attr("text-anchor", "middle").attr("font-size", 37).attr("fill", "#000").text(axisLabel);
  }
});
</script>
</body></html>
